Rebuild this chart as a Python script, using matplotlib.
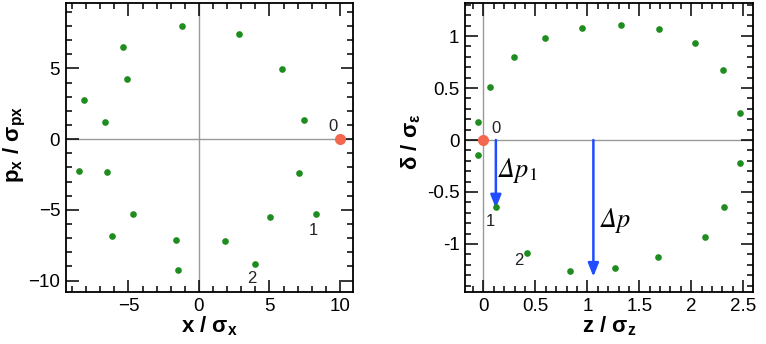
import numpy as np
import matplotlib
matplotlib.use("Agg")
import matplotlib.pyplot as plt
from matplotlib.ticker import MultipleLocator

plt.rcParams['font.family'] = ['Liberation Sans', 'DejaVu Sans']
plt.rcParams['mathtext.fontset'] = 'custom'
plt.rcParams['mathtext.rm'] = 'Liberation Sans'
plt.rcParams['mathtext.bf'] = 'Liberation Sans:bold'
plt.rcParams['mathtext.it'] = 'Liberation Sans:italic'

# transverse phase space (x / sigma_x, px / sigma_px)
x_pts = [-1.23, 2.81, -5.37, 5.89, -5.13, -8.16, 7.42, -6.69, -8.51, -6.50,
         7.09, -4.66, 8.30, 5.04, -6.15, -1.65, 1.84, 3.95, -1.49]
px_pts = [8.02, 7.41, 6.49, 4.98, 4.22, 2.74, 1.37, 1.18, -2.26, -2.33,
          -2.38, -5.31, -5.31, -5.50, -6.82, -7.10, -7.22, -8.84, -9.27]
x_start, px_start = 10.0, 0.0
x_lab = ['0', '1', '2']
x_lab_pos = [(9.52, 0.87), (8.1, -6.44), (3.74, -9.86)]

# longitudinal phase space (z / sigma_z, delta / sigma_e)
z_pts = [-0.051, -0.051, 0.064, 0.292, 0.596, 0.952, 1.324, 1.693, 2.039, 2.308,
         2.465, 2.468, 2.314, 2.128, 1.683, 1.269, 0.837, 0.423, 0.12]
d_pts = [0.17, -0.147, 0.512, 0.797, 0.982, 1.082, 1.107, 1.069, 0.934, 0.669,
         0.256, -0.221, -0.64, -0.934, -1.123, -1.232, -1.258, -1.085, -0.64]
z_start, d_start = 0.0, 0.0
z_lab = ['0', '1', '2']
z_lab_pos = [(0.122, 0.112), (0.064, -0.785), (0.34, -1.16)]

# kicks
dp1_z, dp1_len = 0.119, -0.657
dp_z, dp_len = 1.058, -1.314

green = '#1f8c1f'
red = '#f4674f'
blue = '#1f4dff'

fig = plt.figure(figsize=(7.66, 3.44), dpi=100)
ax1 = fig.add_axes([65.7 / 766, 51.7 / 344, 287.6 / 766, 289 / 344])
ax2 = fig.add_axes([465 / 766, 51.7 / 344, 287.5 / 766, 289 / 344])


def style(ax):
    for s in ax.spines.values():
        s.set_linewidth(1.3)
    ax.tick_params(which='both', direction='in', top=True, right=True,
                   labelsize=13.5, width=1.1, pad=4)
    ax.tick_params(which='major', length=9)
    ax.tick_params(which='minor', length=4.5)


# left panel
ax1.axhline(0, color='#999999', lw=1, zorder=1)
ax1.axvline(0, color='#999999', lw=1, zorder=1)
ax1.plot(x_pts, px_pts, 'o', color=green, ms=4.8, mec='none', zorder=3)
ax1.plot([x_start], [px_start], 'o', color=red, ms=8, mec='none', zorder=4)
for t, (tx, ty) in zip(x_lab, x_lab_pos):
    ax1.text(tx, ty, t, fontsize=12, color='#222222', ha='center', va='center')
ax1.set_xlim(-9.45, 10.95)
ax1.set_ylim(-10.83, 9.6)
ax1.xaxis.set_major_locator(MultipleLocator(5))
ax1.xaxis.set_minor_locator(MultipleLocator(1))
ax1.yaxis.set_major_locator(MultipleLocator(5))
ax1.yaxis.set_minor_locator(MultipleLocator(1))
style(ax1)
ax1.set_xlabel(r'x / σ$_\mathbf{x}$', fontsize=16, fontweight='bold')
ax1.set_ylabel(r'p$_\mathbf{x}$ / σ$_\mathbf{px}$', fontsize=16, fontweight='bold')
ax1.xaxis.set_label_coords(0.5, -0.075)
ax1.yaxis.set_label_coords(-0.13, 0.51)

# right panel
ax2.axhline(0, color='#999999', lw=1, zorder=1)
ax2.axvline(0, color='#999999', lw=1, zorder=1)
ax2.plot(z_pts, d_pts, 'o', color=green, ms=4.8, mec='none', zorder=3)
ax2.plot([z_start], [d_start], 'o', color=red, ms=8, mec='none', zorder=4)
for t, (tx, ty) in zip(z_lab, z_lab_pos):
    ax2.text(tx, ty, t, fontsize=12, color='#222222', ha='center', va='center')
for zz, ln in [(dp1_z, dp1_len), (dp_z, dp_len)]:
    ax2.annotate('', xy=(zz, ln), xytext=(zz, 0),
                 arrowprops=dict(arrowstyle='-|>,head_length=0.8,head_width=0.32',
                                 color=blue, lw=1.8, shrinkA=0, shrinkB=0),
                 zorder=2)
ax2.text(0.14, -0.29, r'Δ$p_1$', fontsize=19, family='STIXGeneral', style='italic',
         math_fontfamily='stix', ha='left', va='center')
ax2.text(1.12, -0.77, r'Δ$p$', fontsize=19, family='STIXGeneral', style='italic',
         math_fontfamily='stix', ha='left', va='center')
ax2.set_xlim(-0.178, 2.59)
ax2.set_ylim(-1.465, 1.315)
ax2.xaxis.set_major_locator(MultipleLocator(0.5))
ax2.xaxis.set_minor_locator(MultipleLocator(0.1))
ax2.yaxis.set_major_locator(MultipleLocator(0.5))
ax2.yaxis.set_minor_locator(MultipleLocator(0.1))
ax2.xaxis.set_major_formatter(plt.FuncFormatter(lambda v, p: f'{v:g}'))
ax2.yaxis.set_major_formatter(plt.FuncFormatter(lambda v, p: f'{v:g}'))
style(ax2)
ax2.set_xlabel(r'z / σ$_\mathbf{z}$', fontsize=16, fontweight='bold')
ax2.set_ylabel(r'δ / σ$_\mathbf{ε}$', fontsize=16, fontweight='bold')
ax2.xaxis.set_label_coords(0.5, -0.075)
ax2.yaxis.set_label_coords(-0.145, 0.52)

fig.savefig('out.png', dpi=100)
